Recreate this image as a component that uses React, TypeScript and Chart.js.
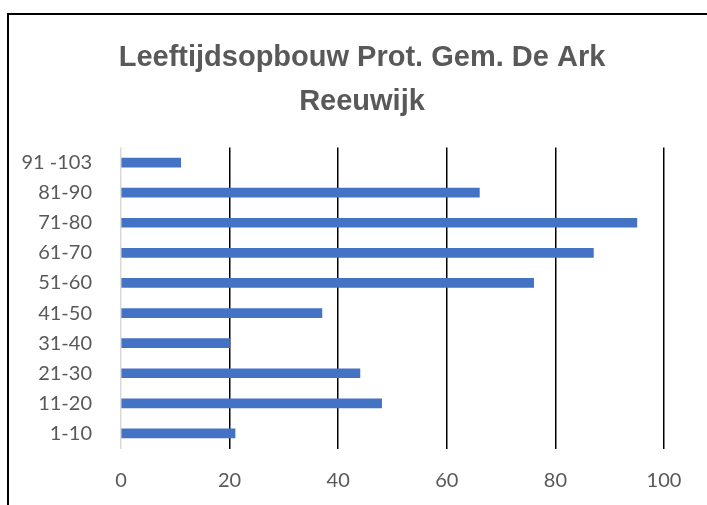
import React, { useEffect, useRef } from 'react';
import { Chart, registerables } from 'chart.js';

Chart.register(...registerables);

const TITLE_LINES = ['Leeftijdsopbouw Prot. Gem. De Ark', 'Reeuwijk'];
const AGE_GROUPS = ['1-10', '11-20', '21-30', '31-40', '41-50', '51-60', '61-70', '71-80', '81-90', '91 -103'];
const MEMBERS = [21, 48, 44, 20, 37, 76, 87, 95, 66, 11];
const X_MIN = 0;
const X_MAX = 100;
const X_STEP = 20;

const GREY_TEXT = '#595959';
const BAR_BLUE = '#4472C4';

export default function App() {
  const ref = useRef<HTMLCanvasElement | null>(null);

  useEffect(() => {
    if (!ref.current) return;
    const chart = new Chart(ref.current, {
      type: 'bar',
      data: {
        labels: AGE_GROUPS,
        datasets: [
          {
            data: MEMBERS,
            backgroundColor: BAR_BLUE,
            borderWidth: 0,
            barThickness: 9,
          },
        ],
      },
      options: {
        indexAxis: 'y',
        responsive: false,
        animation: false,
        devicePixelRatio: 1,
        layout: { padding: 0 },
        plugins: {
          legend: { display: false },
          tooltip: { enabled: false },
          title: {
            display: true,
            text: TITLE_LINES,
            color: GREY_TEXT,
            font: { family: '"Liberation Sans", Arial, sans-serif', size: 29, weight: 'bold', lineHeight: 44 / 29 },
            padding: { top: 36, bottom: 23.5 },
          },
        },
        scales: {
          x: {
            min: X_MIN,
            max: X_MAX,
            ticks: {
              stepSize: X_STEP,
              color: GREY_TEXT,
              padding: 20,
              font: { family: 'Lato, "Open Sans", sans-serif', size: 20 },
            },
            grid: {
              drawTicks: false,
              lineWidth: 1.5,
              color: (ctx: any) => (ctx.tick && ctx.tick.value === 0 ? '#d9d9d9' : '#000000'),
            },
            border: { display: false },
            afterFit: (scale: any) => {
              scale.height = 56.5;
            },
          },
          y: {
            reverse: true,
            ticks: {
              color: GREY_TEXT,
              padding: 21,
              font: { family: 'Lato, "Open Sans", sans-serif', size: 20 },
            },
            grid: { display: false },
            border: { display: false },
            afterFit: (scale: any) => {
              scale.width = 121;
            },
          },
          spacer: {
            type: 'category',
            position: 'right',
            display: true,
            ticks: { display: false },
            grid: { display: false },
            border: { display: false },
            afterFit: (scale: any) => {
              scale.width = 60;
            },
          },
        },
      } as any,
    });
    return () => chart.destroy();
  }, []);

  return (
    <>
      <div
        style={{
          position: 'fixed',
          left: 7,
          top: 13,
          width: 800,
          height: 600,
          border: '2px solid #000',
          boxSizing: 'border-box',
          background: '#fff',
        }}
      />
      <canvas
        ref={ref}
        width={724}
        height={505}
        style={{ position: 'fixed', left: 0, top: 0, width: 724, height: 505, display: 'block' }}
      />
    </>
  );
}
